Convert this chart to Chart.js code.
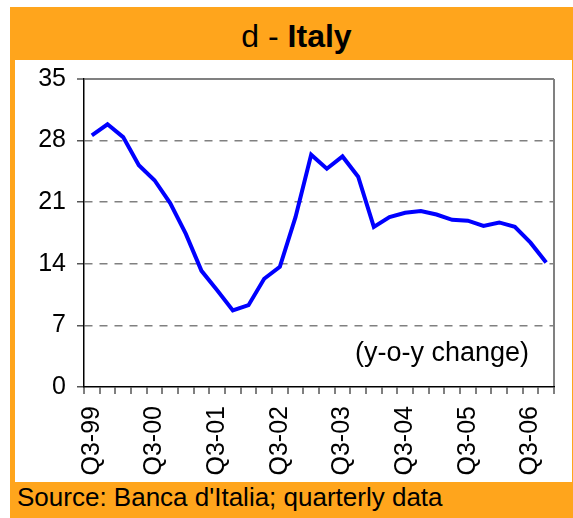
<!DOCTYPE html>
<html>
<head>
<meta charset="utf-8">
<script src="https://cdn.jsdelivr.net/npm/chart.js@4/dist/chart.umd.min.js"></script>
<style>
body { margin: 0; background: #fff; font-family: Arial, "Liberation Sans", sans-serif; }
#frame { position: absolute; left: 10px; top: 7px; width: 563px; height: 511px; background: #FFA51C; }
#panel { position: absolute; left: 15px; top: 60px; width: 557px; height: 422px; background: #fff; }
#title { position: absolute; left: 20px; top: 20px; width: 553px; text-align: center; font-size: 32px; line-height: 32px; color: #000; }
#title b { font-weight: bold; }
#source { position: absolute; left: 17px; top: 484px; font-size: 26px; line-height: 26px; color: #000; white-space: nowrap; }
#note { position: absolute; left: 355px; top: 339px; font-size: 27px; line-height: 27px; color: #000; white-space: nowrap; }
canvas { position: absolute; left: 0; top: 0; }
</style>
</head>
<body>
<div id="frame"></div>
<div id="panel"></div>
<div id="title">d - <b>Italy</b></div>
<div id="source">Source: Banca d'Italia; quarterly data</div>
<canvas id="chart" width="573" height="518"></canvas>
<div id="note">(y-o-y change)</div>
<script>
var quarters = ['Q3-99','Q4-99','Q1-00','Q2-00','Q3-00','Q4-00','Q1-01','Q2-01',
    'Q3-01','Q4-01','Q1-02','Q2-02','Q3-02','Q4-02','Q1-03','Q2-03',
    'Q3-03','Q4-03','Q1-04','Q2-04','Q3-04','Q4-04','Q1-05','Q2-05',
    'Q3-05','Q4-05','Q1-06','Q2-06','Q3-06','Q4-06'];
var italy = [28.6, 29.85, 28.4, 25.2, 23.5, 20.9, 17.4, 13.2,
    11.0, 8.7, 9.3, 12.3, 13.65, 19.3, 26.4, 24.8,
    26.2, 23.9, 18.2, 19.3, 19.8, 20.0, 19.6, 19.0,
    18.9, 18.3, 18.7, 18.2, 16.4, 14.15];
var yTicks = [0, 7, 14, 21, 28, 35];

var tickFont = { family: 'Arial, "Liberation Sans", sans-serif', size: 25 };

var ctx = document.getElementById('chart').getContext('2d');
var myChart = new Chart(ctx, {
    type: 'line',
    data: {
        labels: quarters,
        datasets: [{
            label: 'Italy',
            data: italy,
            borderColor: '#0000FF',
            borderWidth: 4,
            pointRadius: 0,
            tension: 0,
            fill: false
        }]
    },
    options: {
        responsive: false,
        animation: false,
        layout: { padding: { left: 15, top: 79, right: 19, bottom: 36 } },
        plugins: {
            legend: { display: false },
            tooltip: { enabled: false }
        },
        scales: {
            x: {
                offset: true,
                afterFit: function (s) {
                    s.height = 95;
                    s.paddingLeft = 0;
                    s.paddingRight = 0;
                },
                grid: {
                    offset: true,
                    color: function (c) { return c.type === 'scale' ? '#808080' : 'rgba(0,0,0,0)'; },
                    lineWidth: 2,
                    tickColor: '#000',
                    tickLength: 7,
                    tickWidth: 1
                },
                border: { color: '#000', width: 1.5 },
                ticks: {
                    autoSkip: false,
                    maxRotation: 90,
                    minRotation: 90,
                    padding: 12,
                    color: '#000',
                    font: tickFont,
                    callback: function (v, i) {
                        return quarters[i].indexOf('Q3') === 0 ? quarters[i] : '';
                    }
                }
            },
            y: {
                min: 0,
                max: 35,
                afterFit: function (s) {
                    s.width = 69;
                    s.paddingTop = 0;
                    s.paddingBottom = 0;
                },
                afterBuildTicks: function (s) {
                    s.ticks = yTicks.map(function (v) { return { value: v }; });
                },
                grid: {
                    color: function (c) { return c.tick && c.tick.value === 0 ? 'rgba(0,0,0,0)' : '#808080'; },
                    lineWidth: function (c) { return c.tick && c.tick.value === 35 ? 2 : 1.5; },
                    tickColor: '#555',
                    tickLength: 7,
                    tickWidth: 1.5
                },
                border: {
                    color: '#000',
                    width: 1.5,
                    dash: function (c) { return c.tick && c.tick.value === 35 ? [] : [8, 7]; }
                },
                ticks: {
                    padding: 11,
                    color: '#000',
                    font: tickFont
                }
            }
        }
    }
});
</script>
</body>
</html>
